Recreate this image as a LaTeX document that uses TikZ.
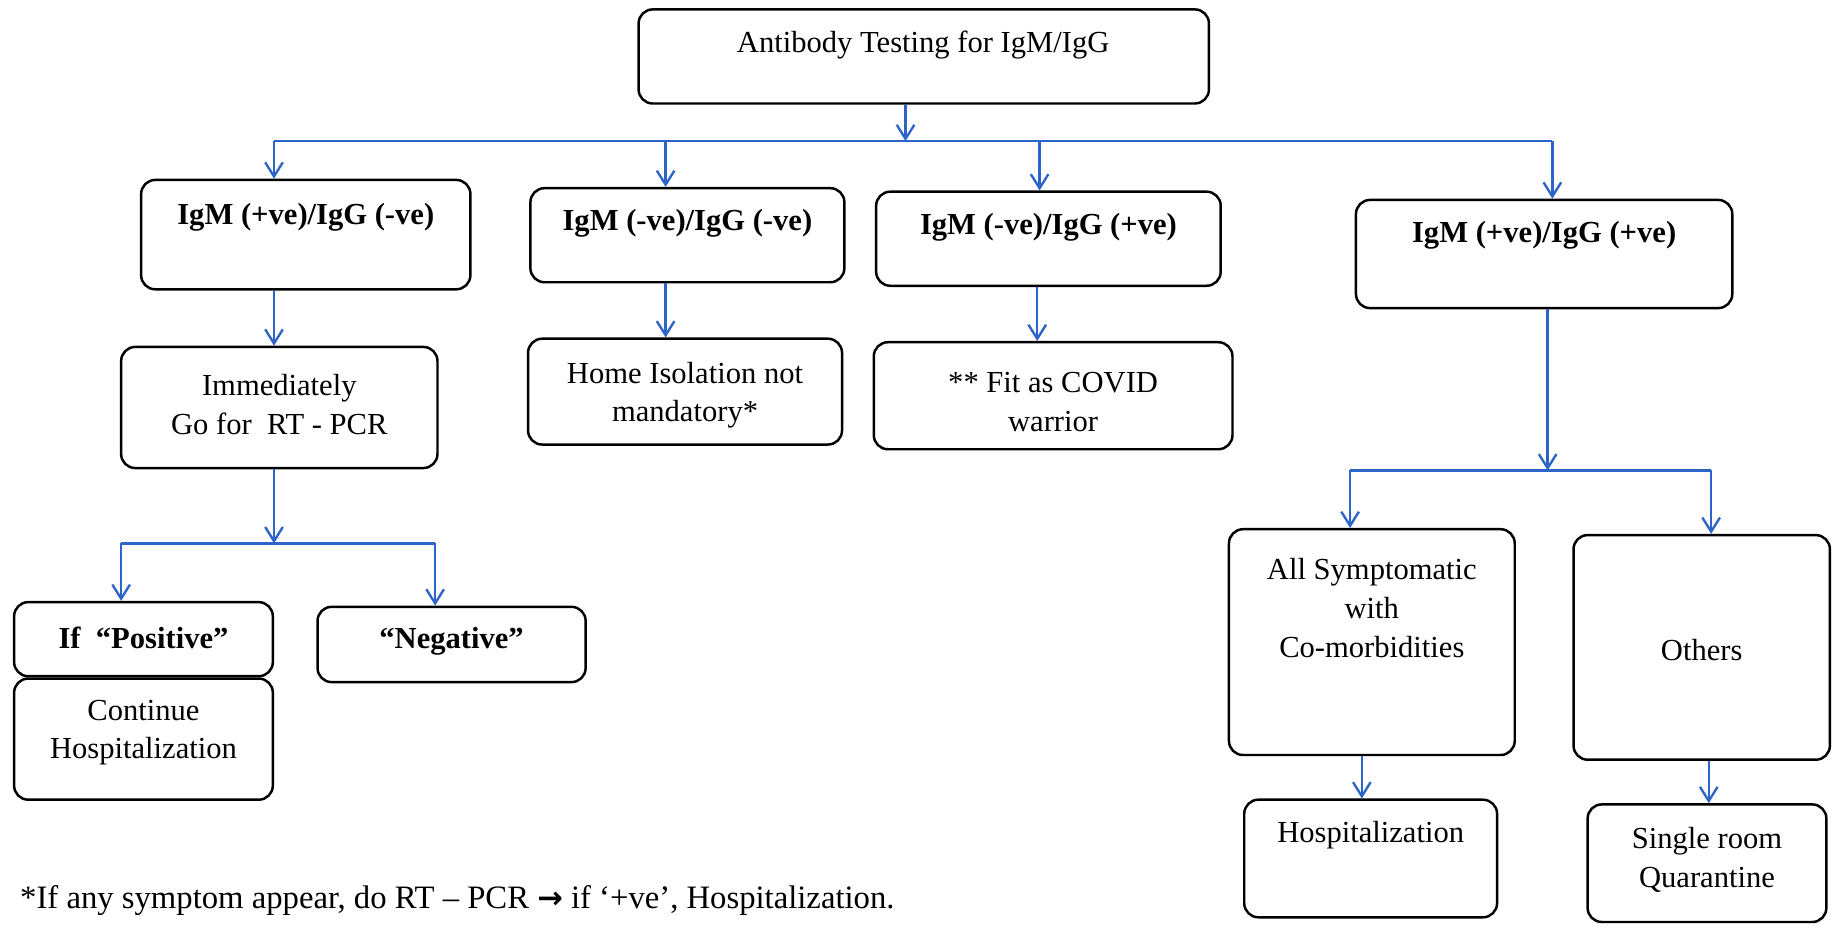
\documentclass[tikz,border=0pt]{standalone}
\usepackage{fontspec}
\setmainfont{Liberation Serif}
\newfontfamily\dejavu{DejaVu Sans}
\usetikzlibrary{arrows.meta}
\definecolor{cblue}{RGB}{45,100,200}
\begin{document}
\begin{tikzpicture}[x=1pt,y=-1pt,
 box/.style={draw=black, line width=2.1pt, rounded corners=12pt, inner sep=0pt},
 txt/.style={font=\fontsize{26}{33}\selectfont, align=center, inner sep=0pt},
 btxt/.style={txt, font=\fontsize{26}{33}\selectfont\bfseries},
 conn/.style={draw=cblue, line width=2pt},
 arr/.style={conn, -{Straight Barb[length=12pt,width=15pt]}},
]
\useasboundingbox[fill=white] (0,0) rectangle (1568,789);

% boxes
\node[box, minimum width=485pt, minimum height=80pt] (top) at (785.5,48) {};
\node[txt] (topT) at (785,38) {Antibody Testing for IgM/IgG};

\node[box, minimum width=280pt, minimum height=93pt] (b1) at (260,199.5) {};
\node[btxt] (b1T) at (260,185) {IgM (+ve)/IgG (-ve)};
\node[box, minimum width=267pt, minimum height=80pt] (b2) at (584.5,200) {};
\node[btxt] (b2T) at (584.5,190) {IgM (-ve)/IgG (-ve)};
\node[box, minimum width=293pt, minimum height=80pt] (b3) at (891.5,203) {};
\node[btxt] (b3T) at (891.5,193) {IgM (-ve)/IgG (+ve)};
\node[box, minimum width=320pt, minimum height=92pt] (b4) at (1313,216) {};
\node[btxt] (b4T) at (1313,200) {IgM (+ve)/IgG (+ve)};

\node[box, minimum width=269pt, minimum height=103pt] (c1) at (237.5,346.5) {};
\node[txt] (c1T) at (237.5,344) {Immediately\\Go for~~RT - PCR};
\node[box, minimum width=267pt, minimum height=90pt] (c2) at (582.5,333) {};
\node[txt] (c2T) at (582.5,336) {Home Isolation not\\mandatory*};
\node[box, minimum width=305pt, minimum height=91pt] (c3) at (895.5,336.5) {};
\node[txt] (c3T) at (895.5,342) {** Fit as COVID\\warrior};

\node[box, minimum width=220pt, minimum height=63pt] (d1) at (122,543.5) {};
\node[btxt] (d1T) at (122,542) {If~~“Positive”};
\node[box, minimum width=220pt, minimum height=103pt] (d1b) at (122,628.5) {};
\node[txt] (d1bT) at (122,623) {Continue\\Hospitalization};
\node[box, minimum width=228pt, minimum height=64pt] (d2) at (384,548) {};
\node[btxt] (d2T) at (384,545) {“Negative”};

\node[box, minimum width=243pt, minimum height=192pt] (e1) at (1166.5,546) {};
\node[txt] (e1T) at (1166.5,517) {All Symptomatic\\with\\Co-morbidities};
\node[box, minimum width=218pt, minimum height=191pt] (e2) at (1447,550.5) {};
\node[txt] (e2T) at (1447,553) {Others};
\node[box, minimum width=215pt, minimum height=100pt] (f1) at (1165.5,730) {};
\node[txt] (f1T) at (1165.5,710) {Hospitalization};
\node[box, minimum width=203pt, minimum height=100pt] (f2) at (1451.5,734) {};
\node[txt] (f2T) at (1451.5,731) {Single room\\Quarantine};

\node[txt, font=\fontsize{27.8}{33}\selectfont, anchor=west] (note) at (17,766) {*If any symptom appear, do RT – PCR {\dejavu\bfseries\fontsize{26}{26}\selectfont →} if ‘+ve’, Hospitalization.};

% connectors
\coordinate (j0) at (770,120);
\coordinate (j1) at (233,120);
\coordinate (j2) at (566,120);
\coordinate (j3) at (884,120);
\coordinate (j4) at (1320,120);
\draw[arr] (top.south -| j0) -- (j0);
\draw[conn] (j1) -- (j4);
\draw[arr] (j1) -- (j1 |- b1.north);
\draw[arr] (j2) -- (j2 |- b2.north);
\draw[arr] (j3) -- (j3 |- b3.north);
\draw[arr] (j4) -- (j4 |- b4.north);

\draw[arr] (b1.south -| j1) -- (c1.north -| j1);
\draw[arr] (b2.south -| j2) -- (c2.north -| j2);
\coordinate (k3) at (882,0);
\draw[arr] (b3.south -| k3) -- (c3.north -| k3);

\coordinate (m0) at (233,462);
\coordinate (m1) at (103,462);
\coordinate (m2) at (370,462);
\draw[arr] (c1.south -| m0) -- (m0);
\draw[conn] (m1) -- (m2);
\draw[arr] (m1) -- (m1 |- d1.north);
\draw[arr] (m2) -- (m2 |- d2.north);

\coordinate (n0) at (1316,400);
\coordinate (n1) at (1148,400);
\coordinate (n2) at (1455,400);
\draw[arr] (b4.south -| n0) -- (n0);
\draw[conn] (n1) -- (n2);
\draw[arr] (n1) -- (n1 |- e1.north);
\draw[arr] (n2) -- (n2 |- e2.north);

\coordinate (p1) at (1158,0);
\coordinate (p2) at (1453,0);
\draw[arr] (e1.south -| p1) -- (f1.north -| p1);
\draw[arr] (e2.south -| p2) -- (f2.north -| p2);
\end{tikzpicture}
\end{document}
